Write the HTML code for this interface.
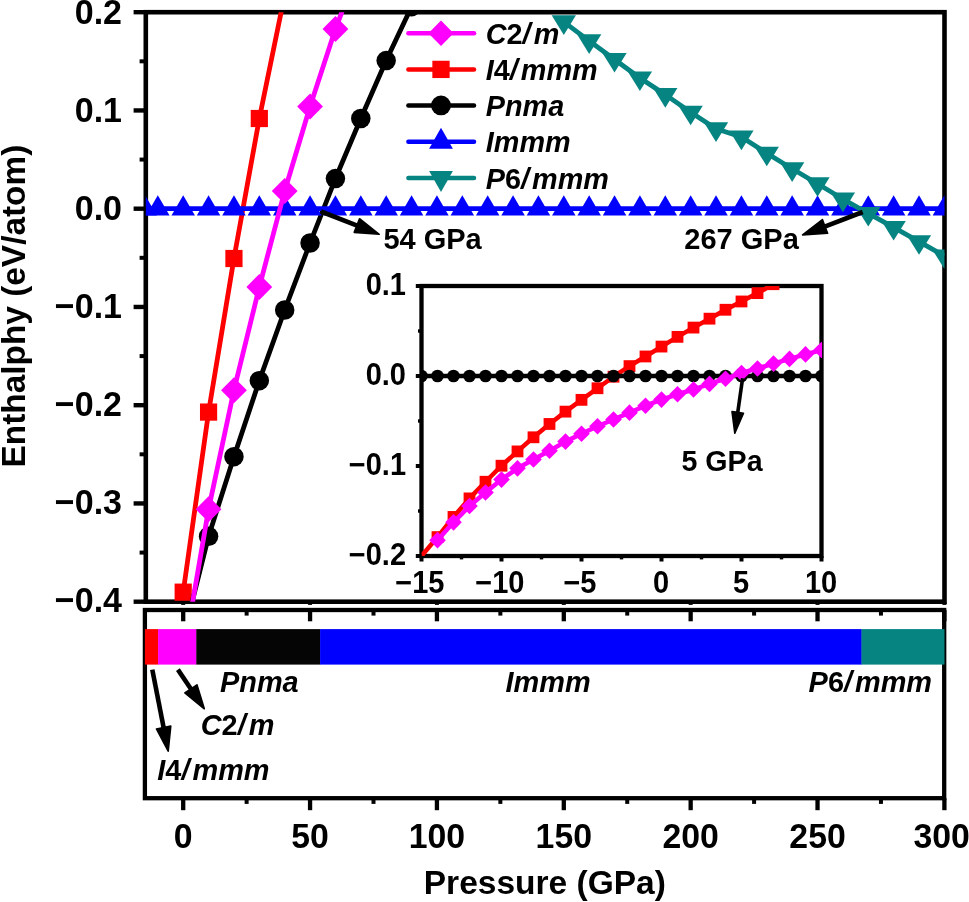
<!DOCTYPE html>
<html lang="en">
<head>
<meta charset="utf-8">
<title>Enthalpy vs pressure</title>
<style>html,body{margin:0;padding:0;background:#fff}svg{display:block;will-change:transform}</style>
</head>
<body>
<svg width="969" height="902" viewBox="0 0 969 902" font-family='"Liberation Sans", sans-serif' font-weight="bold" fill="#000">
<rect width="969" height="902" fill="#fff"/>
<defs>
<clipPath id="cu"><rect x="145.8" y="12.2" width="798.7" height="589.5"/></clipPath>
<clipPath id="ci"><rect x="421.5" y="286" width="400.6" height="270"/></clipPath>
</defs>
<rect x="145.8" y="12.2" width="798.7" height="589.5" fill="none" stroke="#000" stroke-width="4.6"/>
<g clip-path="url(#cu)">
<polyline points="183.2,592.17 208.57,412.08 233.95,258.51 259.32,118.51 284.69,-5.09" fill="none" stroke="#ff0000" stroke-width="4.8" stroke-linejoin="round"/>
<rect x="174.6" y="583.57" width="17.2" height="17.2" fill="#ff0000"/>
<rect x="199.97" y="403.48" width="17.2" height="17.2" fill="#ff0000"/>
<rect x="225.35" y="249.91" width="17.2" height="17.2" fill="#ff0000"/>
<rect x="250.72" y="109.91" width="17.2" height="17.2" fill="#ff0000"/>
<polyline points="183.2,637.46 208.57,536.36 233.95,456.68 259.32,380.64 284.69,310 310.06,242.99 335.44,178.54 360.81,118.51 386.18,60.54 411.56,6.7" fill="none" stroke="#000000" stroke-width="4.8" stroke-linejoin="round"/>
<circle cx="208.57" cy="536.36" r="9.75" fill="#000000"/>
<circle cx="233.95" cy="456.68" r="9.75" fill="#000000"/>
<circle cx="259.32" cy="380.64" r="9.75" fill="#000000"/>
<circle cx="284.69" cy="310" r="9.75" fill="#000000"/>
<circle cx="310.06" cy="242.99" r="9.75" fill="#000000"/>
<circle cx="335.44" cy="178.54" r="9.75" fill="#000000"/>
<circle cx="360.81" cy="118.51" r="9.75" fill="#000000"/>
<circle cx="386.18" cy="60.54" r="9.75" fill="#000000"/>
<circle cx="411.56" cy="6.7" r="9.75" fill="#000000"/>
<line x1="145.8" y1="208.7" x2="944.5" y2="208.7" stroke="#0000ff" stroke-width="4.8" stroke-linecap="butt"/>
<polygon points="133.39,215.47 156.89,215.47 145.14,195.17" fill="#0000ff"/>
<polygon points="146.08,215.47 169.58,215.47 157.83,195.17" fill="#0000ff"/>
<polygon points="171.45,215.47 194.95,215.47 183.2,195.17" fill="#0000ff"/>
<polygon points="196.82,215.47 220.32,215.47 208.57,195.17" fill="#0000ff"/>
<polygon points="222.2,215.47 245.7,215.47 233.95,195.17" fill="#0000ff"/>
<polygon points="247.57,215.47 271.07,215.47 259.32,195.17" fill="#0000ff"/>
<polygon points="272.94,215.47 296.44,215.47 284.69,195.17" fill="#0000ff"/>
<polygon points="298.31,215.47 321.81,215.47 310.06,195.17" fill="#0000ff"/>
<polygon points="323.69,215.47 347.19,215.47 335.44,195.17" fill="#0000ff"/>
<polygon points="349.06,215.47 372.56,215.47 360.81,195.17" fill="#0000ff"/>
<polygon points="374.43,215.47 397.93,215.47 386.18,195.17" fill="#0000ff"/>
<polygon points="399.81,215.47 423.31,215.47 411.56,195.17" fill="#0000ff"/>
<polygon points="425.18,215.47 448.68,215.47 436.93,195.17" fill="#0000ff"/>
<polygon points="450.55,215.47 474.05,215.47 462.3,195.17" fill="#0000ff"/>
<polygon points="475.93,215.47 499.43,215.47 487.68,195.17" fill="#0000ff"/>
<polygon points="501.3,215.47 524.8,215.47 513.05,195.17" fill="#0000ff"/>
<polygon points="526.67,215.47 550.17,215.47 538.42,195.17" fill="#0000ff"/>
<polygon points="552.05,215.47 575.55,215.47 563.8,195.17" fill="#0000ff"/>
<polygon points="577.42,215.47 600.92,215.47 589.17,195.17" fill="#0000ff"/>
<polygon points="602.79,215.47 626.29,215.47 614.54,195.17" fill="#0000ff"/>
<polygon points="628.16,215.47 651.66,215.47 639.91,195.17" fill="#0000ff"/>
<polygon points="653.54,215.47 677.04,215.47 665.29,195.17" fill="#0000ff"/>
<polygon points="678.91,215.47 702.41,215.47 690.66,195.17" fill="#0000ff"/>
<polygon points="704.28,215.47 727.78,215.47 716.03,195.17" fill="#0000ff"/>
<polygon points="729.66,215.47 753.16,215.47 741.41,195.17" fill="#0000ff"/>
<polygon points="755.03,215.47 778.53,215.47 766.78,195.17" fill="#0000ff"/>
<polygon points="780.4,215.47 803.9,215.47 792.15,195.17" fill="#0000ff"/>
<polygon points="805.78,215.47 829.28,215.47 817.53,195.17" fill="#0000ff"/>
<polygon points="831.15,215.47 854.65,215.47 842.9,195.17" fill="#0000ff"/>
<polygon points="856.52,215.47 880.02,215.47 868.27,195.17" fill="#0000ff"/>
<polygon points="881.89,215.47 905.39,215.47 893.64,195.17" fill="#0000ff"/>
<polygon points="907.27,215.47 930.77,215.47 919.02,195.17" fill="#0000ff"/>
<polygon points="932.64,215.47 956.14,215.47 944.39,195.17" fill="#0000ff"/>
<polyline points="563.8,21.83 589.17,40.89 614.54,59.46 639.91,78.03 665.29,94.63 690.66,112.22 716.03,128.82 741.41,137.08 766.78,153.19 792.15,168.81 817.53,183.74 842.9,199.07 868.27,213.42 893.64,227.47 919.02,241.71 944.39,255.96" fill="none" stroke="#058482" stroke-width="4.8" stroke-linejoin="round"/>
<polygon points="551.65,15.3 575.95,15.3 563.8,34.9" fill="#058482"/>
<polygon points="577.02,34.36 601.32,34.36 589.17,53.96" fill="#058482"/>
<polygon points="602.39,52.92 626.69,52.92 614.54,72.52" fill="#058482"/>
<polygon points="627.76,71.49 652.06,71.49 639.91,91.09" fill="#058482"/>
<polygon points="653.14,88.1 677.44,88.1 665.29,107.7" fill="#058482"/>
<polygon points="678.51,105.69 702.81,105.69 690.66,125.29" fill="#058482"/>
<polygon points="703.88,122.29 728.18,122.29 716.03,141.89" fill="#058482"/>
<polygon points="729.26,130.54 753.56,130.54 741.41,150.14" fill="#058482"/>
<polygon points="754.63,146.66 778.93,146.66 766.78,166.26" fill="#058482"/>
<polygon points="780,162.28 804.3,162.28 792.15,181.88" fill="#058482"/>
<polygon points="805.38,177.21 829.68,177.21 817.53,196.81" fill="#058482"/>
<polygon points="830.75,192.54 855.05,192.54 842.9,212.14" fill="#058482"/>
<polygon points="856.12,206.88 880.42,206.88 868.27,226.48" fill="#058482"/>
<polygon points="881.49,220.93 905.79,220.93 893.64,240.53" fill="#058482"/>
<polygon points="906.87,235.18 931.17,235.18 919.02,254.78" fill="#058482"/>
<polygon points="932.24,249.42 956.54,249.42 944.39,269.02" fill="#058482"/>
<polyline points="183.2,656.92 208.57,509.25 233.95,390.17 259.32,287.01 284.69,191.01 310.06,106.52 335.44,29 360.81,-37.91" fill="none" stroke="#ff00ff" stroke-width="4.8" stroke-linejoin="round"/>
<polygon points="195.67,509.25 208.57,496.25 221.47,509.25 208.57,522.25" fill="#ff00ff"/>
<polygon points="221.05,390.17 233.95,377.17 246.85,390.17 233.95,403.17" fill="#ff00ff"/>
<polygon points="246.42,287.01 259.32,274.01 272.22,287.01 259.32,300.01" fill="#ff00ff"/>
<polygon points="271.79,191.01 284.69,178.01 297.59,191.01 284.69,204.01" fill="#ff00ff"/>
<polygon points="297.17,106.52 310.06,93.52 322.96,106.52 310.06,119.52" fill="#ff00ff"/>
<polygon points="322.54,29 335.44,16 348.34,29 335.44,42" fill="#ff00ff"/>
</g>
<line x1="133.6" y1="12.2" x2="145.8" y2="12.2" stroke="#000" stroke-width="4.4" stroke-linecap="butt"/>
<line x1="139.6" y1="61.32" x2="145.8" y2="61.32" stroke="#000" stroke-width="4" stroke-linecap="butt"/>
<text transform="translate(122,24.2) scale(1,1.05)" font-size="34" text-anchor="end">0.2</text>
<line x1="133.6" y1="110.45" x2="145.8" y2="110.45" stroke="#000" stroke-width="4.4" stroke-linecap="butt"/>
<line x1="139.6" y1="159.57" x2="145.8" y2="159.57" stroke="#000" stroke-width="4" stroke-linecap="butt"/>
<text transform="translate(122,122.2) scale(1,1.05)" font-size="34" text-anchor="end">0.1</text>
<line x1="133.6" y1="208.7" x2="145.8" y2="208.7" stroke="#000" stroke-width="4.4" stroke-linecap="butt"/>
<line x1="139.6" y1="257.82" x2="145.8" y2="257.82" stroke="#000" stroke-width="4" stroke-linecap="butt"/>
<text transform="translate(122,220.2) scale(1,1.05)" font-size="34" text-anchor="end">0.0</text>
<line x1="133.6" y1="306.95" x2="145.8" y2="306.95" stroke="#000" stroke-width="4.4" stroke-linecap="butt"/>
<line x1="139.6" y1="356.08" x2="145.8" y2="356.08" stroke="#000" stroke-width="4" stroke-linecap="butt"/>
<text transform="translate(122,318.2) scale(1,1.05)" font-size="34" text-anchor="end">−0.1</text>
<line x1="133.6" y1="405.2" x2="145.8" y2="405.2" stroke="#000" stroke-width="4.4" stroke-linecap="butt"/>
<line x1="139.6" y1="454.32" x2="145.8" y2="454.32" stroke="#000" stroke-width="4" stroke-linecap="butt"/>
<text transform="translate(122,416.2) scale(1,1.05)" font-size="34" text-anchor="end">−0.2</text>
<line x1="133.6" y1="503.45" x2="145.8" y2="503.45" stroke="#000" stroke-width="4.4" stroke-linecap="butt"/>
<line x1="139.6" y1="552.58" x2="145.8" y2="552.58" stroke="#000" stroke-width="4" stroke-linecap="butt"/>
<text transform="translate(122,514.2) scale(1,1.05)" font-size="34" text-anchor="end">−0.3</text>
<line x1="133.6" y1="601.7" x2="145.8" y2="601.7" stroke="#000" stroke-width="4.4" stroke-linecap="butt"/>
<text transform="translate(122,612.2) scale(1,1.05)" font-size="34" text-anchor="end">−0.4</text>
<line x1="183.2" y1="601.7" x2="183.2" y2="604.9" stroke="#000" stroke-width="4" stroke-linecap="butt"/>
<line x1="310.06" y1="601.7" x2="310.06" y2="604.9" stroke="#000" stroke-width="4" stroke-linecap="butt"/>
<line x1="436.93" y1="601.7" x2="436.93" y2="604.9" stroke="#000" stroke-width="4" stroke-linecap="butt"/>
<line x1="563.8" y1="601.7" x2="563.8" y2="604.9" stroke="#000" stroke-width="4" stroke-linecap="butt"/>
<line x1="690.66" y1="601.7" x2="690.66" y2="604.9" stroke="#000" stroke-width="4" stroke-linecap="butt"/>
<line x1="817.53" y1="601.7" x2="817.53" y2="604.9" stroke="#000" stroke-width="4" stroke-linecap="butt"/>
<line x1="944.39" y1="601.7" x2="944.39" y2="604.9" stroke="#000" stroke-width="4" stroke-linecap="butt"/>
<line x1="408.4" y1="33.2" x2="474" y2="33.2" stroke="#ff00ff" stroke-width="4.5" stroke-linecap="round"/>
<polygon points="428.4,33.2 441,20.4 453.6,33.2 441,46" fill="#ff00ff"/>
<text x="485.8" y="43.8" font-size="28.8" text-anchor="start"><tspan font-style="italic">C</tspan>2<tspan font-style="italic">/</tspan><tspan font-style="italic" dx="3">m</tspan></text>
<line x1="408.4" y1="69.4" x2="474" y2="69.4" stroke="#ff0000" stroke-width="4.5" stroke-linecap="round"/>
<rect x="432.35" y="60.75" width="17.3" height="17.3" fill="#ff0000"/>
<text x="485.8" y="80" font-size="28.8" text-anchor="start"><tspan font-style="italic">I</tspan>4<tspan font-style="italic">/</tspan><tspan font-style="italic" dx="3">mmm</tspan></text>
<line x1="408.4" y1="105.4" x2="474" y2="105.4" stroke="#000000" stroke-width="4.5" stroke-linecap="round"/>
<circle cx="441" cy="105.4" r="9.9" fill="#000000"/>
<text x="485.8" y="116" font-size="28.8" text-anchor="start"><tspan font-style="italic">Pnma</tspan></text>
<line x1="408.4" y1="141.7" x2="474" y2="141.7" stroke="#0000ff" stroke-width="4.5" stroke-linecap="round"/>
<polygon points="429.1,148.63 452.9,148.63 441,127.83" fill="#0000ff"/>
<text x="485.8" y="152.3" font-size="28.8" text-anchor="start"><tspan font-style="italic">Immm</tspan></text>
<line x1="408.4" y1="178.1" x2="474" y2="178.1" stroke="#058482" stroke-width="4.5" stroke-linecap="round"/>
<polygon points="429.1,171.1 452.9,171.1 441,192.1" fill="#058482"/>
<text x="485.8" y="188.7" font-size="28.8" text-anchor="start"><tspan font-style="italic">P</tspan>6<tspan font-style="italic">/</tspan><tspan font-style="italic" dx="3">mmm</tspan></text>
<line x1="321" y1="211.5" x2="357.78" y2="225.91" stroke="#000" stroke-width="4.6" stroke-linecap="butt"/><polygon points="379.2,234.3 354.19,232.34 356.85,225.55 359.52,218.75" fill="#000" stroke="#000" stroke-width="1.6" stroke-linejoin="round"/>
<text x="383.4" y="248.7" font-size="29" text-anchor="start">54 GPa</text>
<line x1="862.7" y1="212" x2="824.08" y2="226.78" stroke="#000" stroke-width="4.6" stroke-linecap="butt"/><polygon points="802.6,235 822.41,219.6 825.01,226.42 827.62,233.24" fill="#000" stroke="#000" stroke-width="1.6" stroke-linejoin="round"/>
<text x="798.8" y="248.7" font-size="29" text-anchor="end">267 GPa</text>
<rect x="421.5" y="286" width="400" height="270" fill="#fff"/>
<rect x="421.5" y="286" width="400" height="270" fill="none" stroke="#000" stroke-width="4.3"/>
<g clip-path="url(#ci)">
<polyline points="421.5,556 437.5,537.1 453.5,516.94 469.5,498.4 485.5,481.75 501.5,465.73 517.5,451.42 533.5,437.29 549.5,423.97 565.5,411.64 581.5,399.85 597.5,388.24 613.5,376.72 629.5,366.1 645.5,356.47 661.5,346.57 677.5,336.85 693.5,327.58 709.5,318.67 725.5,309.76 741.5,301.48 757.5,293.11 773.5,284.2 789.5,276.1" fill="none" stroke="#ff0000" stroke-width="4.5" stroke-linejoin="round"/>
<rect x="431.6" y="531.2" width="11.8" height="11.8" fill="#ff0000"/>
<rect x="447.6" y="511.04" width="11.8" height="11.8" fill="#ff0000"/>
<rect x="463.6" y="492.5" width="11.8" height="11.8" fill="#ff0000"/>
<rect x="479.6" y="475.85" width="11.8" height="11.8" fill="#ff0000"/>
<rect x="495.6" y="459.83" width="11.8" height="11.8" fill="#ff0000"/>
<rect x="511.6" y="445.52" width="11.8" height="11.8" fill="#ff0000"/>
<rect x="527.6" y="431.39" width="11.8" height="11.8" fill="#ff0000"/>
<rect x="543.6" y="418.07" width="11.8" height="11.8" fill="#ff0000"/>
<rect x="559.6" y="405.74" width="11.8" height="11.8" fill="#ff0000"/>
<rect x="575.6" y="393.95" width="11.8" height="11.8" fill="#ff0000"/>
<rect x="591.6" y="382.34" width="11.8" height="11.8" fill="#ff0000"/>
<rect x="607.6" y="370.82" width="11.8" height="11.8" fill="#ff0000"/>
<rect x="623.6" y="360.2" width="11.8" height="11.8" fill="#ff0000"/>
<rect x="639.6" y="350.57" width="11.8" height="11.8" fill="#ff0000"/>
<rect x="655.6" y="340.67" width="11.8" height="11.8" fill="#ff0000"/>
<rect x="671.6" y="330.95" width="11.8" height="11.8" fill="#ff0000"/>
<rect x="687.6" y="321.68" width="11.8" height="11.8" fill="#ff0000"/>
<rect x="703.6" y="312.77" width="11.8" height="11.8" fill="#ff0000"/>
<rect x="719.6" y="303.86" width="11.8" height="11.8" fill="#ff0000"/>
<rect x="735.6" y="295.58" width="11.8" height="11.8" fill="#ff0000"/>
<rect x="751.6" y="287.21" width="11.8" height="11.8" fill="#ff0000"/>
<rect x="767.6" y="278.3" width="11.8" height="11.8" fill="#ff0000"/>
<rect x="783.6" y="270.2" width="11.8" height="11.8" fill="#ff0000"/>
<line x1="421.5" y1="376" x2="821.5" y2="376" stroke="#000000" stroke-width="4.5" stroke-linecap="butt"/>
<circle cx="421.5" cy="376" r="6.3" fill="#000000"/>
<circle cx="437.5" cy="376" r="6.3" fill="#000000"/>
<circle cx="453.5" cy="376" r="6.3" fill="#000000"/>
<circle cx="469.5" cy="376" r="6.3" fill="#000000"/>
<circle cx="485.5" cy="376" r="6.3" fill="#000000"/>
<circle cx="501.5" cy="376" r="6.3" fill="#000000"/>
<circle cx="517.5" cy="376" r="6.3" fill="#000000"/>
<circle cx="533.5" cy="376" r="6.3" fill="#000000"/>
<circle cx="549.5" cy="376" r="6.3" fill="#000000"/>
<circle cx="565.5" cy="376" r="6.3" fill="#000000"/>
<circle cx="581.5" cy="376" r="6.3" fill="#000000"/>
<circle cx="597.5" cy="376" r="6.3" fill="#000000"/>
<circle cx="613.5" cy="376" r="6.3" fill="#000000"/>
<circle cx="629.5" cy="376" r="6.3" fill="#000000"/>
<circle cx="645.5" cy="376" r="6.3" fill="#000000"/>
<circle cx="661.5" cy="376" r="6.3" fill="#000000"/>
<circle cx="677.5" cy="376" r="6.3" fill="#000000"/>
<circle cx="693.5" cy="376" r="6.3" fill="#000000"/>
<circle cx="709.5" cy="376" r="6.3" fill="#000000"/>
<circle cx="725.5" cy="376" r="6.3" fill="#000000"/>
<circle cx="741.5" cy="376" r="6.3" fill="#000000"/>
<circle cx="757.5" cy="376" r="6.3" fill="#000000"/>
<circle cx="773.5" cy="376" r="6.3" fill="#000000"/>
<circle cx="789.5" cy="376" r="6.3" fill="#000000"/>
<circle cx="805.5" cy="376" r="6.3" fill="#000000"/>
<circle cx="821.5" cy="376" r="6.3" fill="#000000"/>
<polyline points="437.5,540.16 453.5,522.34 469.5,506.05 485.5,492.55 501.5,479.59 517.5,468.34 533.5,459.52 549.5,450.79 565.5,441.61 581.5,433.69 597.5,426.22 613.5,419.47 629.5,412.63 645.5,405.7 661.5,399.58 677.5,394.27 693.5,389.5 709.5,383.92 725.5,378.7 741.5,373.03 757.5,368.44 773.5,363.58 789.5,358.9 805.5,354.4 821.5,349.99" fill="none" stroke="#ff00ff" stroke-width="4.5" stroke-linejoin="round"/>
<polygon points="429.2,540.16 437.5,531.86 445.8,540.16 437.5,548.46" fill="#ff00ff"/>
<polygon points="445.2,522.34 453.5,514.04 461.8,522.34 453.5,530.64" fill="#ff00ff"/>
<polygon points="461.2,506.05 469.5,497.75 477.8,506.05 469.5,514.35" fill="#ff00ff"/>
<polygon points="477.2,492.55 485.5,484.25 493.8,492.55 485.5,500.85" fill="#ff00ff"/>
<polygon points="493.2,479.59 501.5,471.29 509.8,479.59 501.5,487.89" fill="#ff00ff"/>
<polygon points="509.2,468.34 517.5,460.04 525.8,468.34 517.5,476.64" fill="#ff00ff"/>
<polygon points="525.2,459.52 533.5,451.22 541.8,459.52 533.5,467.82" fill="#ff00ff"/>
<polygon points="541.2,450.79 549.5,442.49 557.8,450.79 549.5,459.09" fill="#ff00ff"/>
<polygon points="557.2,441.61 565.5,433.31 573.8,441.61 565.5,449.91" fill="#ff00ff"/>
<polygon points="573.2,433.69 581.5,425.39 589.8,433.69 581.5,441.99" fill="#ff00ff"/>
<polygon points="589.2,426.22 597.5,417.92 605.8,426.22 597.5,434.52" fill="#ff00ff"/>
<polygon points="605.2,419.47 613.5,411.17 621.8,419.47 613.5,427.77" fill="#ff00ff"/>
<polygon points="621.2,412.63 629.5,404.33 637.8,412.63 629.5,420.93" fill="#ff00ff"/>
<polygon points="637.2,405.7 645.5,397.4 653.8,405.7 645.5,414" fill="#ff00ff"/>
<polygon points="653.2,399.58 661.5,391.28 669.8,399.58 661.5,407.88" fill="#ff00ff"/>
<polygon points="669.2,394.27 677.5,385.97 685.8,394.27 677.5,402.57" fill="#ff00ff"/>
<polygon points="685.2,389.5 693.5,381.2 701.8,389.5 693.5,397.8" fill="#ff00ff"/>
<polygon points="701.2,383.92 709.5,375.62 717.8,383.92 709.5,392.22" fill="#ff00ff"/>
<polygon points="717.2,378.7 725.5,370.4 733.8,378.7 725.5,387" fill="#ff00ff"/>
<polygon points="733.2,373.03 741.5,364.73 749.8,373.03 741.5,381.33" fill="#ff00ff"/>
<polygon points="749.2,368.44 757.5,360.14 765.8,368.44 757.5,376.74" fill="#ff00ff"/>
<polygon points="765.2,363.58 773.5,355.28 781.8,363.58 773.5,371.88" fill="#ff00ff"/>
<polygon points="781.2,358.9 789.5,350.6 797.8,358.9 789.5,367.2" fill="#ff00ff"/>
<polygon points="797.2,354.4 805.5,346.1 813.8,354.4 805.5,362.7" fill="#ff00ff"/>
<polygon points="813.2,349.99 821.5,341.69 829.8,349.99 821.5,358.29" fill="#ff00ff"/>
</g>
<line x1="415.8" y1="286" x2="421.5" y2="286" stroke="#000" stroke-width="4" stroke-linecap="butt"/>
<line x1="418" y1="331" x2="421.5" y2="331" stroke="#000" stroke-width="3.4" stroke-linecap="butt"/>
<text transform="translate(406,294.6) scale(1,1.05)" font-size="29" text-anchor="end">0.1</text>
<line x1="415.8" y1="376" x2="421.5" y2="376" stroke="#000" stroke-width="4" stroke-linecap="butt"/>
<line x1="418" y1="421" x2="421.5" y2="421" stroke="#000" stroke-width="3.4" stroke-linecap="butt"/>
<text transform="translate(406,384.6) scale(1,1.05)" font-size="29" text-anchor="end">0.0</text>
<line x1="415.8" y1="466" x2="421.5" y2="466" stroke="#000" stroke-width="4" stroke-linecap="butt"/>
<line x1="418" y1="511" x2="421.5" y2="511" stroke="#000" stroke-width="3.4" stroke-linecap="butt"/>
<text transform="translate(406,474.6) scale(1,1.05)" font-size="29" text-anchor="end">−0.1</text>
<line x1="415.8" y1="556" x2="421.5" y2="556" stroke="#000" stroke-width="4" stroke-linecap="butt"/>
<text transform="translate(406,564.6) scale(1,1.05)" font-size="29" text-anchor="end">−0.2</text>
<line x1="421.5" y1="556" x2="421.5" y2="561.5" stroke="#000" stroke-width="4" stroke-linecap="butt"/>
<text transform="translate(419.9,592.6) scale(1,1.05)" font-size="29" text-anchor="middle">−15</text>
<line x1="501.5" y1="556" x2="501.5" y2="561.5" stroke="#000" stroke-width="4" stroke-linecap="butt"/>
<text transform="translate(499.9,592.6) scale(1,1.05)" font-size="29" text-anchor="middle">−10</text>
<line x1="581.5" y1="556" x2="581.5" y2="561.5" stroke="#000" stroke-width="4" stroke-linecap="butt"/>
<text transform="translate(579.9,592.6) scale(1,1.05)" font-size="29" text-anchor="middle">−5</text>
<line x1="661.5" y1="556" x2="661.5" y2="561.5" stroke="#000" stroke-width="4" stroke-linecap="butt"/>
<text transform="translate(661.1,592.6) scale(1,1.05)" font-size="29" text-anchor="middle">0</text>
<line x1="741.5" y1="556" x2="741.5" y2="561.5" stroke="#000" stroke-width="4" stroke-linecap="butt"/>
<text transform="translate(741.1,592.6) scale(1,1.05)" font-size="29" text-anchor="middle">5</text>
<line x1="821.5" y1="556" x2="821.5" y2="561.5" stroke="#000" stroke-width="4" stroke-linecap="butt"/>
<text transform="translate(821.1,592.6) scale(1,1.05)" font-size="29" text-anchor="middle">10</text>
<line x1="461.5" y1="556" x2="461.5" y2="559.4" stroke="#000" stroke-width="3.4" stroke-linecap="butt"/>
<line x1="541.5" y1="556" x2="541.5" y2="559.4" stroke="#000" stroke-width="3.4" stroke-linecap="butt"/>
<line x1="621.5" y1="556" x2="621.5" y2="559.4" stroke="#000" stroke-width="3.4" stroke-linecap="butt"/>
<line x1="701.5" y1="556" x2="701.5" y2="559.4" stroke="#000" stroke-width="3.4" stroke-linecap="butt"/>
<line x1="781.5" y1="556" x2="781.5" y2="559.4" stroke="#000" stroke-width="3.4" stroke-linecap="butt"/>
<line x1="742.6" y1="378.3" x2="737.61" y2="413.4" stroke="#000" stroke-width="3.6" stroke-linecap="butt"/><polygon points="734.8,433.2 732.01,411.59 737.75,412.41 743.5,413.22" fill="#000" stroke="#000" stroke-width="1.6" stroke-linejoin="round"/>
<text x="681.5" y="471.3" font-size="28.6" text-anchor="start">5 GPa</text>
<rect x="144.9" y="610" width="799.3" height="188.2" fill="#fff" stroke="#000" stroke-width="4.3"/>
<line x1="183.2" y1="610" x2="183.2" y2="621.3" stroke="#000" stroke-width="4.3" stroke-linecap="butt"/>
<line x1="183.2" y1="798.2" x2="183.2" y2="810.2" stroke="#000" stroke-width="4.3" stroke-linecap="butt"/>
<text transform="translate(183.2,848) scale(1,1.05)" font-size="33.8" text-anchor="middle">0</text>
<line x1="310.06" y1="610" x2="310.06" y2="621.3" stroke="#000" stroke-width="4.3" stroke-linecap="butt"/>
<line x1="310.06" y1="798.2" x2="310.06" y2="810.2" stroke="#000" stroke-width="4.3" stroke-linecap="butt"/>
<text transform="translate(310.06,848) scale(1,1.05)" font-size="33.8" text-anchor="middle">50</text>
<line x1="436.93" y1="610" x2="436.93" y2="621.3" stroke="#000" stroke-width="4.3" stroke-linecap="butt"/>
<line x1="436.93" y1="798.2" x2="436.93" y2="810.2" stroke="#000" stroke-width="4.3" stroke-linecap="butt"/>
<text transform="translate(436.93,848) scale(1,1.05)" font-size="33.8" text-anchor="middle">100</text>
<line x1="563.8" y1="610" x2="563.8" y2="621.3" stroke="#000" stroke-width="4.3" stroke-linecap="butt"/>
<line x1="563.8" y1="798.2" x2="563.8" y2="810.2" stroke="#000" stroke-width="4.3" stroke-linecap="butt"/>
<text transform="translate(563.8,848) scale(1,1.05)" font-size="33.8" text-anchor="middle">150</text>
<line x1="690.66" y1="610" x2="690.66" y2="621.3" stroke="#000" stroke-width="4.3" stroke-linecap="butt"/>
<line x1="690.66" y1="798.2" x2="690.66" y2="810.2" stroke="#000" stroke-width="4.3" stroke-linecap="butt"/>
<text transform="translate(690.66,848) scale(1,1.05)" font-size="33.8" text-anchor="middle">200</text>
<line x1="817.53" y1="610" x2="817.53" y2="621.3" stroke="#000" stroke-width="4.3" stroke-linecap="butt"/>
<line x1="817.53" y1="798.2" x2="817.53" y2="810.2" stroke="#000" stroke-width="4.3" stroke-linecap="butt"/>
<text transform="translate(817.53,848) scale(1,1.05)" font-size="33.8" text-anchor="middle">250</text>
<line x1="944.39" y1="610" x2="944.39" y2="621.3" stroke="#000" stroke-width="4.3" stroke-linecap="butt"/>
<line x1="944.39" y1="798.2" x2="944.39" y2="810.2" stroke="#000" stroke-width="4.3" stroke-linecap="butt"/>
<text transform="translate(941.69,848) scale(1,1.05)" font-size="33.8" text-anchor="middle">300</text>
<line x1="246.63" y1="610" x2="246.63" y2="615.6" stroke="#000" stroke-width="4" stroke-linecap="butt"/>
<line x1="246.63" y1="798.2" x2="246.63" y2="803.9" stroke="#000" stroke-width="4" stroke-linecap="butt"/>
<line x1="373.5" y1="610" x2="373.5" y2="615.6" stroke="#000" stroke-width="4" stroke-linecap="butt"/>
<line x1="373.5" y1="798.2" x2="373.5" y2="803.9" stroke="#000" stroke-width="4" stroke-linecap="butt"/>
<line x1="500.36" y1="610" x2="500.36" y2="615.6" stroke="#000" stroke-width="4" stroke-linecap="butt"/>
<line x1="500.36" y1="798.2" x2="500.36" y2="803.9" stroke="#000" stroke-width="4" stroke-linecap="butt"/>
<line x1="627.23" y1="610" x2="627.23" y2="615.6" stroke="#000" stroke-width="4" stroke-linecap="butt"/>
<line x1="627.23" y1="798.2" x2="627.23" y2="803.9" stroke="#000" stroke-width="4" stroke-linecap="butt"/>
<line x1="754.09" y1="610" x2="754.09" y2="615.6" stroke="#000" stroke-width="4" stroke-linecap="butt"/>
<line x1="754.09" y1="798.2" x2="754.09" y2="803.9" stroke="#000" stroke-width="4" stroke-linecap="butt"/>
<line x1="880.96" y1="610" x2="880.96" y2="615.6" stroke="#000" stroke-width="4" stroke-linecap="butt"/>
<line x1="880.96" y1="798.2" x2="880.96" y2="803.9" stroke="#000" stroke-width="4" stroke-linecap="butt"/>
<rect x="144.9" y="629.1" width="13.5" height="35.5" fill="#ff0000"/>
<rect x="158.1" y="629.1" width="38.5" height="35.5" fill="#ff00ff"/>
<rect x="196.3" y="629.1" width="124.1" height="35.5" fill="#050505"/>
<rect x="320.1" y="629.1" width="541.7" height="35.5" fill="#0000ff"/>
<rect x="861.5" y="629.1" width="83" height="35.5" fill="#058482"/>
<text x="220" y="692" font-size="28.9" text-anchor="start"><tspan font-style="italic">Pnma</tspan></text>
<text x="200.7" y="735" font-size="28.9" text-anchor="start"><tspan font-style="italic">C</tspan>2<tspan font-style="italic">/</tspan><tspan font-style="italic" dx="3">m</tspan></text>
<text x="157.3" y="780.4" font-size="28.9" text-anchor="start"><tspan font-style="italic">I</tspan>4<tspan font-style="italic">/</tspan><tspan font-style="italic" dx="3">mmm</tspan></text>
<text x="505.6" y="692" font-size="28.9" text-anchor="start"><tspan font-style="italic">Immm</tspan></text>
<text x="808.6" y="692" font-size="28.9" text-anchor="start"><tspan font-style="italic">P</tspan>6<tspan font-style="italic">/</tspan><tspan font-style="italic" dx="3">mmm</tspan></text>
<line x1="152.3" y1="669.6" x2="163.8" y2="728.53" stroke="#000" stroke-width="4.6" stroke-linecap="butt"/><polygon points="168.2,751.1 156.44,728.94 163.6,727.54 170.77,726.15" fill="#000" stroke="#000" stroke-width="1.6" stroke-linejoin="round"/>
<line x1="177.9" y1="669.6" x2="191.45" y2="689.72" stroke="#000" stroke-width="4.6" stroke-linecap="butt"/><polygon points="204.3,708.8 184.84,692.97 190.89,688.89 196.95,684.82" fill="#000" stroke="#000" stroke-width="1.6" stroke-linejoin="round"/>
<text x="544.8" y="893.9" font-size="33.5" text-anchor="middle">Pressure (GPa)</text>
<text transform="translate(25.2,306.1) rotate(-90)" font-size="33.4" text-anchor="middle">Enthalphy (eV/atom)</text>
</svg>
</body>
</html>
